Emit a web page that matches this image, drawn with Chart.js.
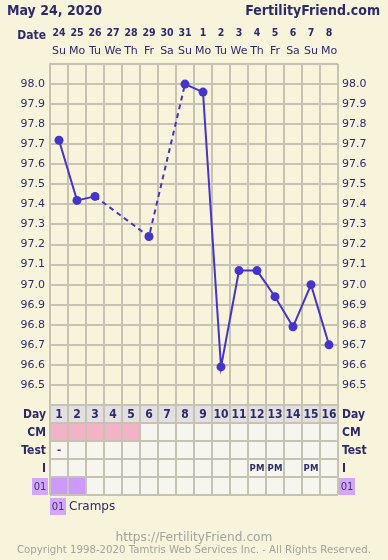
<!DOCTYPE html>
<html>
<head>
<meta charset="utf-8">
<script src="https://cdn.jsdelivr.net/npm/chart.js@4.4.1/dist/chart.umd.min.js"></script>
<style>
html, body { margin: 0; padding: 0; background: #f8f4dc; }
canvas { display: block; }
</style>
</head>
<body>
<canvas id="bbtChart" width="388" height="560"></canvas>
<script>
// chart data
const chartDate = "May 24, 2020";
const siteName = "FertilityFriend.com";
const dates = ["24", "25", "26", "27", "28", "29", "30", "31", "1", "2", "3", "4", "5", "6", "7", "8"];
const weekdays = ["Su", "Mo", "Tu", "We", "Th", "Fr", "Sa", "Su", "Mo", "Tu", "We", "Th", "Fr", "Sa", "Su", "Mo"];
const cycleDays = ["1", "2", "3", "4", "5", "6", "7", "8", "9", "10", "11", "12", "13", "14", "15", "16"];
const temps = [97.72, 97.42, 97.44, null, null, 97.24, null, 98.00, 97.96, 96.59, 97.07, 97.07, 96.94, 96.79, 97.00, 96.70];
const tempMin = 96.4;
const tempMax = 98.1;
const tempStep = 0.1;
const cmDays = [1, 1, 1, 1, 1, 0, 0, 0, 0, 0, 0, 0, 0, 0, 0, 0];
const testMarks = ["-", "", "", "", "", "", "", "", "", "", "", "", "", "", "", ""];
const intercourse = ["", "", "", "", "", "", "", "", "", "", "", "PM", "PM", "", "PM", ""];
const crampDays = [1, 1, 0, 0, 0, 0, 0, 0, 0, 0, 0, 0, 0, 0, 0, 0];
const symptomCode = "01";
const symptomName = "Cramps";
const footerUrl = "https://FertilityFriend.com";
const copyright = "Copyright 1998-2020 Tamtris Web Services Inc. - All Rights Reserved.";

// styles
const bg = "#f8f4dc";
const ink = "#2d2a6b";
const gridColor = "#c6c2b4";
const lineColor = "#4433cc";
const cellColor = "#f6f6ef";
const dayRowColor = "#e2e0e0";
const cmColor = "#f3b3c6";
const crampColor = "#cc99ff";
const codeBoxColor = "#d4a6fa";
const rowH = 18;
const cond = "'DejaVu Sans Condensed', 'DejaVu Sans', sans-serif";
const sans = "'DejaVu Sans', sans-serif";

function txt(ctx, s, x, y, font, color, align, baseline) {
    ctx.font = font;
    ctx.fillStyle = color;
    ctx.textAlign = align || "left";
    ctx.textBaseline = baseline || "alphabetic";
    ctx.fillText(s, x, y);
}

function codeBox(ctx, x, y) {
    ctx.fillStyle = codeBoxColor;
    ctx.fillRect(x, y, 16, 17);
    txt(ctx, symptomCode, x + 8, y + 9, "10px " + sans, "#3a3570", "center", "middle");
}

const decor = {
    id: "decor",
    beforeDraw(chart) {
        const ctx = chart.ctx;
        ctx.save();
        ctx.fillStyle = bg;
        ctx.fillRect(0, 0, chart.width, chart.height);
        ctx.restore();
    },
    afterDraw(chart) {
        const ctx = chart.ctx;
        const xs = chart.scales.x;
        const area = chart.chartArea;
        const half = (xs.getPixelForValue(1) - xs.getPixelForValue(0)) / 2;
        ctx.save();

        // header
        txt(ctx, chartDate, 7, 15, "bold 14px " + cond, ink);
        txt(ctx, siteName, 380, 15, "bold 14px " + cond, ink, "right");
        txt(ctx, "Date", 46, 39, "bold 12px " + cond, ink, "right");
        dates.forEach((d, i) => {
            const cx = xs.getPixelForValue(i);
            txt(ctx, d, cx, 36, "bold 10.5px " + cond, ink, "center");
            txt(ctx, weekdays[i], cx, 54, "11px " + sans, ink, "center");
        });

        // table cells
        const top = area.bottom;
        cycleDays.forEach((d, i) => {
            const x0 = xs.getPixelForValue(i) - half;
            const w = half * 2;
            ctx.fillStyle = dayRowColor;
            ctx.fillRect(x0, top, w, rowH);
            ctx.fillStyle = cmDays[i] ? cmColor : cellColor;
            ctx.fillRect(x0, top + rowH, w, rowH);
            ctx.fillStyle = cellColor;
            ctx.fillRect(x0, top + rowH * 2, w, rowH);
            ctx.fillRect(x0, top + rowH * 3, w, rowH);
            ctx.fillStyle = crampDays[i] ? crampColor : cellColor;
            ctx.fillRect(x0, top + rowH * 4, w, rowH);
        });

        // table lines
        ctx.strokeStyle = gridColor;
        ctx.lineWidth = 2;
        ctx.beginPath();
        for (let r = 0; r <= 5; r++) {
            ctx.moveTo(area.left, top + r * rowH);
            ctx.lineTo(area.right, top + r * rowH);
        }
        for (let i = 0; i <= cycleDays.length; i++) {
            const x = xs.getPixelForValue(0) - half + i * half * 2;
            ctx.moveTo(x, top);
            ctx.lineTo(x, top + rowH * 5);
        }
        ctx.stroke();

        // table text
        cycleDays.forEach((d, i) => {
            const cx = xs.getPixelForValue(i);
            txt(ctx, d, cx, top + rowH / 2 + 1, "bold 12px " + cond, ink, "center", "middle");
            if (testMarks[i]) txt(ctx, testMarks[i], cx, top + rowH * 2.5, "bold 10px " + sans, ink, "center", "middle");
            if (intercourse[i]) txt(ctx, intercourse[i], cx, top + rowH * 3.5 + 1, "bold 9.5px " + cond, ink, "center", "middle");
        });
        const labels = ["Day", "CM", "Test", "I"];
        labels.forEach((l, r) => {
            const y = top + rowH * r + rowH / 2 + 1;
            txt(ctx, l, area.left - 4, y, "bold 12px " + cond, ink, "right", "middle");
            txt(ctx, l, area.right + 4, y, "bold 12px " + cond, ink, "left", "middle");
        });
        codeBox(ctx, area.left - 18, top + rowH * 4 + 1);
        codeBox(ctx, area.right + 1, top + rowH * 4 + 1);

        // legend
        codeBox(ctx, area.left, top + rowH * 5 + 3);
        txt(ctx, symptomName, area.left + 19, top + rowH * 5 + 15, "12px " + sans, ink);

        // footer
        txt(ctx, footerUrl, chart.width / 2, 541, "12.2px " + sans, "#a4a39a", "center");
        txt(ctx, copyright, chart.width / 2, 553, "10.2px " + sans, "#a4a39a", "center");
        ctx.restore();
    }
};

const tickFmt = v => (v < tempMin + tempStep / 2 || v > tempMax - tempStep / 2) ? "" : v.toFixed(1);

// dashed where the line bridges missing days
const gapDash = ctx => (ctx.p0.skip || ctx.p1.skip ? [5, 4] : undefined);

const data = {
    labels: cycleDays,
    datasets: [{
        data: temps,
        borderColor: lineColor,
        backgroundColor: lineColor,
        borderWidth: 2,
        pointRadius: 4.5,
        pointBorderWidth: 0,
        pointBackgroundColor: lineColor,
        spanGaps: true,
        tension: 0,
        segment: { borderDash: gapDash }
    }]
};

const config = {
    type: "line",
    data: data,
    options: {
        responsive: false,
        animation: false,
        layout: { padding: { top: 64, bottom: 155, left: 0, right: 0 } },
        plugins: { legend: { display: false }, tooltip: { enabled: false } },
        scales: {
            x: {
                offset: true,
                grid: { offset: true, color: gridColor, lineWidth: 2, drawTicks: false },
                border: { display: false },
                ticks: { display: false },
                afterFit: s => { s.height = 0; }
            },
            y: {
                position: "left",
                min: tempMin,
                max: tempMax,
                grid: { color: gridColor, lineWidth: 2, drawTicks: false },
                border: { color: gridColor, width: 2 },
                ticks: { stepSize: tempStep, padding: 5, color: ink, font: { family: "DejaVu Sans", size: 11 }, callback: tickFmt },
                afterFit: s => { s.width = 50; }
            },
            y2: {
                position: "right",
                min: tempMin,
                max: tempMax,
                grid: { display: false, drawTicks: false },
                border: { display: false },
                ticks: { stepSize: tempStep, padding: 4, color: ink, font: { family: "DejaVu Sans", size: 11 }, callback: tickFmt },
                afterFit: s => { s.width = 50; }
            }
        }
    },
    plugins: [decor]
};

const bbtChart = new Chart(document.getElementById("bbtChart"), config);
</script>
</body>
</html>
